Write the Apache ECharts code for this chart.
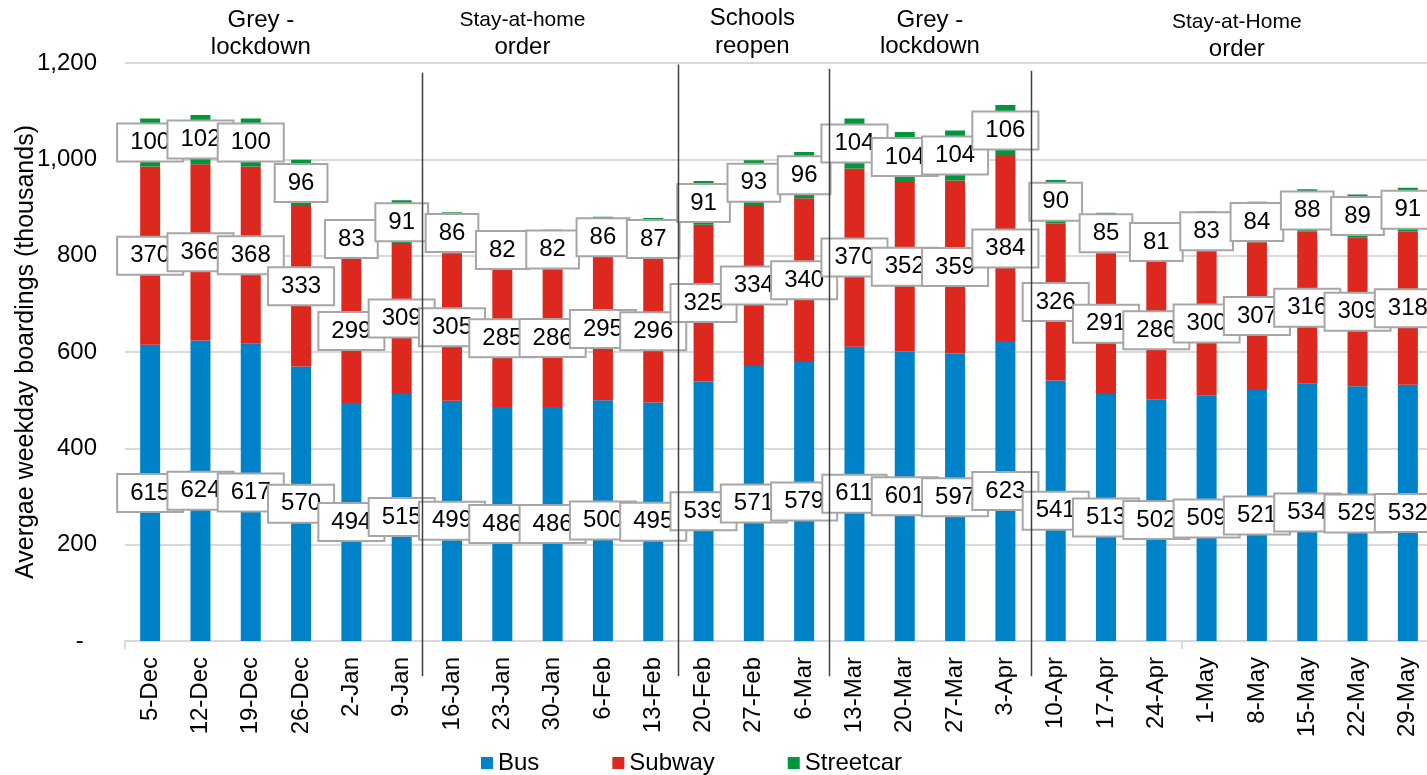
<!DOCTYPE html>
<html>
<head>
<meta charset="utf-8">
<script src="https://cdn.jsdelivr.net/npm/echarts@6/dist/echarts.min.js"></script>
<style>
  html, body { margin: 0; padding: 0; background: #fff; }
  #chart { width: 1427px; height: 775px; }
</style>
</head>
<body>
<div id="chart"></div>
<script>
// Weekly average weekday boardings (thousands), by mode
const weeks = ['5-Dec', '12-Dec', '19-Dec', '26-Dec', '2-Jan', '9-Jan', '16-Jan', '23-Jan', '30-Jan',
  '6-Feb', '13-Feb', '20-Feb', '27-Feb', '6-Mar', '13-Mar', '20-Mar', '27-Mar', '3-Apr', '10-Apr',
  '17-Apr', '24-Apr', '1-May', '8-May', '15-May', '22-May', '29-May'];
const bus = [615, 624, 617, 570, 494, 515, 499, 486, 486, 500, 495, 539, 571, 579, 611, 601, 597, 623,
  541, 513, 502, 509, 521, 534, 529, 532];
const subway = [370, 366, 368, 333, 299, 309, 305, 285, 286, 295, 296, 325, 334, 340, 370, 352, 359, 384,
  326, 291, 286, 300, 307, 316, 309, 318];
const streetcar = [100, 102, 100, 96, 83, 91, 86, 82, 82, 86, 87, 91, 93, 96, 104, 104, 104, 106,
  90, 85, 81, 83, 84, 88, 89, 91];

// Policy periods: heading lines, heading centre (in category units)
const periodTitles = [
  { lines: ['Grey -', 'lockdown'], at: 2.2, sizes: [24, 24], ys: [20, 47] },
  { lines: ['Stay-at-home', 'order'], at: 7.4, sizes: [21, 24], ys: [20, 47] },
  { lines: ['Schools', 'reopen'], at: 11.97, sizes: [24, 24], ys: [18, 46] },
  { lines: ['Grey -', 'lockdown'], at: 15.5, sizes: [24, 24], ys: [20, 46] },
  { lines: ['Stay-at-Home', 'order'], at: 21.6, sizes: [21, 24], ys: [22, 49] }
];
// Divider lines between periods (category position, top value in thousands)
const periodBreaks = [5.41, 10.5, 13.5, 17.5];
const breakTops = [1180, 1197, 1188, 1184];
const breakBottom = -73;

const FONT = '"Liberation Sans", Arial, sans-serif';
const COLORS = { bus: '#0082c8', subway: '#dc281e', streetcar: '#00963c' };

const chart = echarts.init(document.getElementById('chart'), null, { renderer: 'canvas' });

function barSeries(name, data, color) {
  return {
    name, type: 'bar', stack: 'total', data, barWidth: 20,
    itemStyle: { color },
    emphasis: { disabled: true },
    label: {
      show: true, position: 'inside', color: '#000', fontSize: 24, fontFamily: FONT,
      backgroundColor: '#fff', borderColor: '#a6a6a6', borderWidth: 2,
      padding: [5, 12, 4, 12], lineHeight: 27
    }
  };
}

chart.setOption({
  animation: false,
  textStyle: { fontFamily: FONT },
  grid: { left: 125, width: 1308, top: 63, bottom: 134, containLabel: false, outerBoundsMode: 'none' },
  legend: {
    left: 476, bottom: -5, icon: 'rect', itemWidth: 12, itemHeight: 12, itemGap: 73,
    textStyle: { fontSize: 24, color: '#000', fontFamily: FONT },
    selectedMode: false,
    data: ['Bus', 'Subway', 'Streetcar']
  },
  xAxis: {
    type: 'category', data: weeks,
    axisLine: { lineStyle: { color: '#d9d9d9', width: 2 } },
    axisTick: { show: true, length: 8, interval: (i) => i === 0 || i === 21, lineStyle: { color: '#d9d9d9', width: 2 } },
    axisLabel: { rotate: 90, fontSize: 24, color: '#000', margin: 16, fontFamily: FONT, interval: 0 }
  },
  yAxis: {
    type: 'value', min: 0, max: 1200, interval: 200,
    name: 'Avergae weekday boardings (thousands)', nameLocation: 'middle', nameGap: 86,
    nameMoveOverlap: false,
    nameTextStyle: { fontSize: 25, color: '#000', fontFamily: FONT },
    axisLine: { show: false }, axisTick: { show: false },
    splitLine: { lineStyle: { color: '#d9d9d9', width: 2 } },
    axisLabel: {
      fontSize: 24, color: '#000', margin: 28, fontFamily: FONT,
      formatter: (v) => v === 0 ? '-  ' : v.toLocaleString('en-US')
    }
  },
  series: [
    barSeries('Bus', bus, COLORS.bus),
    barSeries('Subway', subway, COLORS.subway),
    barSeries('Streetcar', streetcar, COLORS.streetcar)
  ]
});

// Period dividers and headings, placed through the axis scales
function catX(pos) {
  const p0 = chart.convertToPixel({ xAxisIndex: 0 }, 0);
  const p1 = chart.convertToPixel({ xAxisIndex: 0 }, 1);
  return p0 + pos * (p1 - p0);
}
function valY(v) { return chart.convertToPixel({ yAxisIndex: 0 }, v); }

const graphics = [];
periodBreaks.forEach((pos, i) => {
  const x = Math.round(catX(pos)) + 0.5;
  graphics.push({
    type: 'line', z: 100,
    shape: { x1: x, y1: valY(breakTops[i]), x2: x, y2: valY(breakBottom) },
    style: { stroke: '#404040', lineWidth: 1.5 }
  });
});
periodTitles.forEach((t) => {
  const x = catX(t.at);
  t.lines.forEach((line, k) => {
    graphics.push({
      type: 'text', z: 100, x, y: t.ys[k],
      style: { text: line, fontSize: t.sizes[k], fontFamily: FONT, fill: '#000', align: 'center', verticalAlign: 'middle' }
    });
  });
});
chart.setOption({ graphic: graphics });
</script>
</body>
</html>
